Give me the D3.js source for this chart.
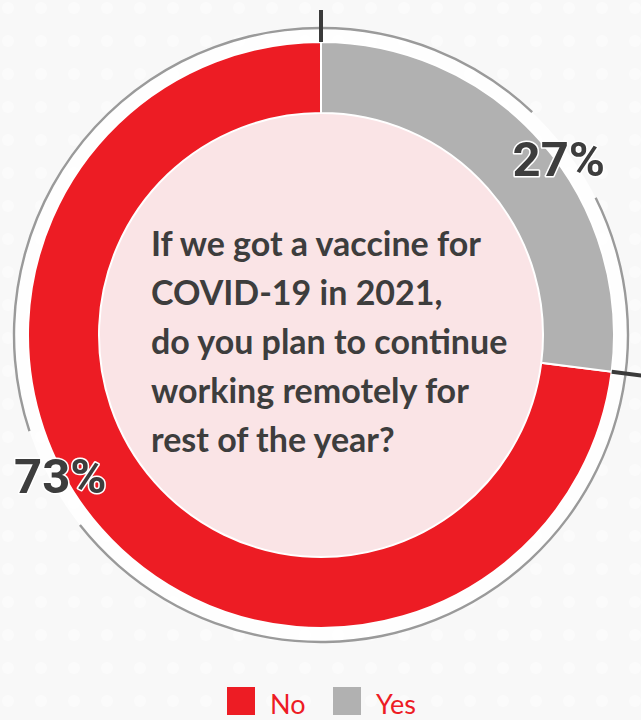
<!DOCTYPE html>
<html><head><meta charset="utf-8">
<script src="https://cdn.jsdelivr.net/npm/d3@7/dist/d3.min.js"></script>
<style>html,body{margin:0;padding:0;background:#f8f8f8;}svg{display:block;}</style>
</head><body><svg id="c" width="641" height="720"></svg>
<script>
const categories = ["No", "Yes"];
const values = [73, 27];
const colors = ["#ed1c24", "#b1b1b1"];
const titleLines = ["If we got a vaccine for", "COVID-19 in 2021,", "do you plan to continue", "working remotely for", "rest of the year?"];

const svg = d3.select("#c");
const W = 641, H = 720;
const cx = 321, cy = 335;
const R = 293, r = 222, lineR = 307;

// subtle dotted background
const defs = svg.append("defs");
const pat = defs.append("pattern").attr("id","dots").attr("width",33).attr("height",33).attr("patternUnits","userSpaceOnUse");
pat.append("circle").attr("cx",8).attr("cy",8).attr("r",6).attr("fill","#ffffff").attr("opacity",0.8);
svg.append("rect").attr("width",W).attr("height",H).attr("fill","#f8f8f8");
svg.append("rect").attr("width",W).attr("height",H).attr("fill","url(#dots)").attr("opacity",0.6);

const g = svg.append("g").attr("transform",`translate(${cx},${cy})`);
g.append("circle").attr("r",lineR).attr("fill","#ffffff").attr("opacity",0.85);

const pie = d3.pie().sort(null).value(d=>d.v)
  .startAngle(2*Math.PI*values[1]/100).endAngle(2*Math.PI*(1+values[1]/100));
const data = categories.map((c,i)=>({c, v: values[i], col: colors[i]}));
const arcs = pie(data);

g.append("circle").attr("r",r).attr("fill","#fae4e6");

const arcGen = d3.arc().innerRadius(r).outerRadius(R);
g.selectAll("path.slice").data(arcs).join("path").attr("class","slice")
  .attr("d",arcGen).attr("fill",d=>d.data.col).attr("stroke","#ffffff").attr("stroke-width",2);

// label angles
const frac = 0.55;
const labelAngle = d => d.startAngle + frac*(d.endAngle - d.startAngle);
const norm = a => ((a % (2*Math.PI)) + 2*Math.PI) % (2*Math.PI);
const gaps = arcs.map(d => norm(labelAngle(d))).sort((a,b)=>a-b);
const gapHalf = 10*Math.PI/180;
// outer thin line with gaps around labels
const segs = [];
let prev = 0;
gaps.forEach(a => { segs.push([prev, a-gapHalf]); prev = a+gapHalf; });
segs.push([prev, 2*Math.PI]);
const lineArc = d3.arc().innerRadius(lineR-1.2).outerRadius(lineR+1.2);
g.selectAll("path.ol").data(segs).join("path").attr("class","ol")
  .attr("d",s=>lineArc({startAngle:s[0], endAngle:s[1]})).attr("fill","#9a9a9a");

// ticks at slice boundaries
g.selectAll("line.tick").data(arcs).join("line").attr("class","tick")
  .attr("x1",d=>R*Math.sin(d.startAngle)).attr("y1",d=>-R*Math.cos(d.startAngle))
  .attr("x2",d=>(R+32)*Math.sin(d.startAngle)).attr("y2",d=>-(R+32)*Math.cos(d.startAngle))
  .attr("stroke","#3a3a3a").attr("stroke-width",4);

// percentage labels
const lr = 296;
g.selectAll("text.pct").data(arcs).join("text").attr("class","pct")
  .attr("x",d=>lr*Math.sin(labelAngle(d))).attr("y",d=>-lr*Math.cos(labelAngle(d)))
  .attr("dy","0.36em").attr("text-anchor","middle")
  .attr("font-family","Roboto, 'Open Sans', sans-serif").attr("font-weight",700).attr("font-size",49)
  .attr("fill","#3d3d3d").attr("stroke","#ffffff").attr("stroke-width",3).attr("paint-order","stroke")
  .attr("stroke-linejoin","round")
  .text(d=>d.data.v+"%");

// title
const t = svg.append("text").attr("x",151).attr("y",256)
  .attr("font-family","Lato, sans-serif").attr("font-weight",700).attr("font-size",34).attr("fill","#3d3d3d");
t.selectAll("tspan").data(titleLines).join("tspan").attr("x",151).attr("dy",(d,i)=>i===0?0:49).text(d=>d);

// legend
const leg = svg.append("g").attr("transform","translate(227,687)");
const items = leg.selectAll("g").data(categories).join("g").attr("transform",(d,i)=>`translate(${i*106},0)`);
items.append("rect").attr("width",28).attr("height",28).attr("fill",(d,i)=>colors[i]);
items.append("text").attr("x",43).attr("y",27).attr("font-family","Lato, sans-serif").attr("font-size",27)
  .attr("fill","#ed1c24").text(d=>d);
</script></body></html>
